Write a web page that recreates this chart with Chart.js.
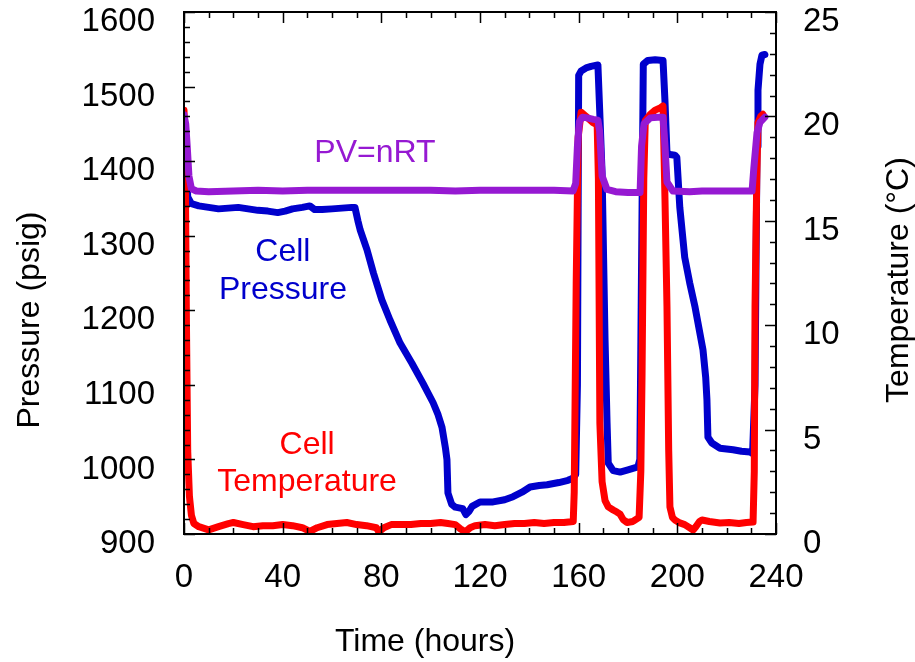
<!DOCTYPE html>
<html>
<head>
<meta charset="utf-8">
<script src="https://cdn.jsdelivr.net/npm/chart.js@4.4.1/dist/chart.umd.min.js"></script>
<style>
  html, body { margin: 0; padding: 0; background: #fff; }
  #wrap { width: 915px; height: 662px; }
</style>
</head>
<body>
<div id="wrap"><canvas id="chart"></canvas></div>
<script>
// --- Cell pressure (psig) vs time (hours) ---
const pressureHours = [0, 0.8, 1.5, 3, 6, 10, 14, 18, 22, 26, 30, 34, 38, 41, 44, 48, 51, 53, 56, 60, 64, 68, 69.3,
  70.5, 71.4, 74.2, 76.8, 80.2, 83.5, 87.6, 92.4, 96.9, 101, 103, 104.6, 106, 106.6, 107, 108.5, 110, 113, 114.3,
  115.5, 116.8, 120, 125.3, 130, 133.4, 137, 140.3, 144, 147.2, 152, 155.7, 157.7, 158.8, 159.5, 160, 161, 163,
  165, 167.8, 168.5, 169.5, 170.7, 171.5, 172, 174, 176.8, 180, 184, 184.8, 185.6, 186.2, 188, 191, 194.2, 195,
  195.8, 197, 199, 199.8, 201, 203, 205, 207.2, 210.4, 211.5, 212, 212.4, 214, 217.3, 222.6, 226, 229.5, 230.5,
  231.5, 232.3, 232.7, 233.5, 234.3, 235.5];
const cellPressure = [1458, 1420, 1352, 1343, 1340, 1338, 1336, 1337, 1338, 1336, 1334, 1333, 1331, 1333, 1336, 1338, 1340, 1335, 1335, 1336, 1337, 1338, 1338,
  1320, 1308, 1281, 1250, 1214, 1187, 1156, 1129, 1102, 1076, 1060, 1043, 1015, 1000, 955, 940, 936, 934, 926,
  930, 937, 943, 943, 946, 950, 956, 963, 965, 966, 969, 972, 975, 980, 1100, 1515, 1521, 1525,
  1527, 1529, 1470, 1384, 1160, 1050, 995, 985, 983, 986, 990, 1000, 1300, 1530, 1535, 1536, 1535, 1480,
  1411, 1409, 1408, 1405, 1338, 1271, 1237, 1204, 1147, 1110, 1080, 1030, 1022, 1015, 1013, 1011, 1010, 1008,
  1100, 1420, 1495, 1530, 1542, 1543];

// --- Cell temperature (°C) vs time (hours) ---
const tempHours = [0, 0.5, 1, 1.5, 2.2, 3, 4, 6, 10, 14, 18, 20, 24, 28, 32, 36, 40, 44, 48, 51, 54, 58, 62, 66, 70,
  74, 78, 79, 81, 84, 88, 92, 96, 100, 104, 107, 110, 112, 114, 116, 118, 122, 126, 130, 134, 138, 142, 146, 150,
  154, 157.8, 158.2, 159, 159.8, 161, 163, 165.8, 167.5, 168, 168.6, 169.5, 170.7, 172, 174, 175.5, 176.8, 178,
  179.6, 182, 184.5, 185.2, 185.7, 186.4, 187, 189, 191, 193, 194.2, 195, 195.8, 196.5, 197, 198, 199, 201, 203,
  205, 206.4, 207.5, 209, 210, 213, 217.3, 221, 225, 228, 230.7, 231.2, 231.5, 232.2, 232.7, 233.8, 234.7];
const cellTemp = [20.3, 18, 10, 4, 1.8, 0.9, 0.5, 0.35, 0.2, 0.35, 0.5, 0.55, 0.45, 0.35, 0.4, 0.4, 0.45, 0.4, 0.3, 0.12, 0.3, 0.45, 0.5, 0.55, 0.45,
  0.4, 0.3, 0.1, 0.3, 0.45, 0.45, 0.45, 0.5, 0.5, 0.55, 0.5, 0.45, 0.25, 0.1, 0.3, 0.4, 0.45, 0.4, 0.45, 0.5, 0.5, 0.55, 0.5, 0.55,
  0.55, 0.6, 2, 12, 19, 20.2, 20.0, 19.7, 19.6, 17, 5.3, 2.5, 1.6, 1.3, 1.15, 1.05, 0.95, 0.7,
  0.55, 0.6, 0.8, 3, 7.7, 17, 19.8, 20.1, 20.3, 20.4, 20.5, 16, 10.9, 4, 1.3, 0.8, 0.67, 0.53, 0.45,
  0.3, 0.19, 0.35, 0.6, 0.67, 0.6, 0.53, 0.55, 0.5, 0.55, 0.57, 3, 10.9, 17, 19.7, 20.0, 20.1];

// --- PV=nRT prediction (psig) vs time (hours) ---
const pvHours = [0, 0.7, 1.3, 2, 3, 5, 10, 20, 30, 40, 50, 60, 70, 80, 90, 100, 110, 120, 130, 140, 150, 157.7,
  158.8, 159.5, 160.3, 161.5, 163.4, 166, 167.8, 168.5, 169.5, 171.5, 175, 180, 184.9, 185.5, 186.5, 189, 192,
  194.2, 195, 195.8, 198.2, 205, 210, 220, 230.3, 231, 232.3, 233.5, 235.5];
const pvPressure = [1462, 1450, 1420, 1380, 1363, 1360, 1359, 1360, 1361, 1360, 1361, 1361, 1361, 1361, 1361, 1361, 1360, 1361, 1361, 1361, 1361, 1360,
  1370, 1420, 1453, 1459, 1458, 1456, 1455, 1440, 1380, 1362, 1359, 1358, 1358, 1420, 1450, 1458, 1459,
  1459, 1420, 1372, 1360, 1359, 1360, 1360, 1360, 1390, 1438, 1452, 1459];

const FONT = '"Liberation Sans", Arial, Helvetica, sans-serif';
const BLUE = '#0000cc';
const RED = '#ff0000';
const PURPLE = '#9619d2';

function pairs(xs, ys) {
  return xs.map((x, i) => ({ x: x, y: ys[i] }));
}

// frame, inward ticks, axis titles and in-plot labels
const decorations = {
  id: 'decorations',
  afterDraw(chart) {
    const { ctx, chartArea: a, scales } = chart;
    const x = scales.x, y = scales.y, yT = scales.yT;
    ctx.save();
    ctx.strokeStyle = '#000';
    ctx.lineWidth = 2;
    ctx.strokeRect(a.left, a.top, a.right - a.left, a.bottom - a.top);

    ctx.lineWidth = 1.5;
    ctx.beginPath();
    for (let h = 0; h <= 240; h += 10) {
      const px = Math.round(x.getPixelForValue(h)) + 0.5;
      const len = h % 40 === 0 ? 11 : 6;
      ctx.moveTo(px, a.bottom); ctx.lineTo(px, a.bottom - len);
      ctx.moveTo(px, a.top); ctx.lineTo(px, a.top + len);
    }
    for (let p = 900; p <= 1600; p += 20) {
      const py = Math.round(y.getPixelForValue(p)) + 0.5;
      const len = p % 100 === 0 ? 11 : 6;
      ctx.moveTo(a.left, py); ctx.lineTo(a.left + len, py);
    }
    for (let t = 0; t <= 25; t += 1) {
      const py = Math.round(yT.getPixelForValue(t)) + 0.5;
      const len = t % 5 === 0 ? 11 : 6;
      ctx.moveTo(a.right, py); ctx.lineTo(a.right - len, py);
    }
    ctx.stroke();

    ctx.font = '32px ' + FONT;
    ctx.textAlign = 'center';
    ctx.textBaseline = 'middle';
    ctx.fillStyle = '#000';
    ctx.fillText('Time (hours)', 425, 642);

    ctx.save();
    ctx.translate(30, 320);
    ctx.rotate(-Math.PI / 2);
    ctx.fillText('Pressure (psig)', 0, 0);
    ctx.restore();

    ctx.save();
    ctx.translate(899, 280);
    ctx.rotate(-Math.PI / 2);
    ctx.fillText('Temperature (\u00B0C)', 0, 0);
    ctx.restore();

    ctx.fillStyle = PURPLE;
    ctx.fillText('PV=nRT', x.getPixelForValue(77.4), y.getPixelForValue(1411));
    ctx.fillStyle = BLUE;
    ctx.fillText('Cell', x.getPixelForValue(40.1), y.getPixelForValue(1278));
    ctx.fillText('Pressure', x.getPixelForValue(40.1), y.getPixelForValue(1227));
    ctx.fillStyle = RED;
    ctx.fillText('Cell', x.getPixelForValue(49.9), yT.getPixelForValue(4.26));
    ctx.fillText('Temperature', x.getPixelForValue(49.9), yT.getPixelForValue(2.49));
    ctx.restore();
  }
};

const tickFont = { family: FONT, size: 33 };
const plain = v => String(v);

new Chart(document.getElementById('chart'), {
  type: 'line',
  data: {
    datasets: [
      { label: 'PV=nRT', data: pairs(pvHours, pvPressure), yAxisID: 'y', borderColor: PURPLE, borderWidth: 7 },
      { label: 'Cell Temperature', data: pairs(tempHours, cellTemp), yAxisID: 'yT', borderColor: RED, borderWidth: 7 },
      { label: 'Cell Pressure', data: pairs(pressureHours, cellPressure), yAxisID: 'y', borderColor: BLUE, borderWidth: 7 }
    ]
  },
  options: {
    responsive: true,
    maintainAspectRatio: false,
    animation: false,
    layout: { padding: { top: 12, left: 0, right: 0, bottom: 0 } },
    elements: {
      point: { radius: 0, hoverRadius: 0 },
      line: { tension: 0, borderJoinStyle: 'round', borderCapStyle: 'round', fill: false }
    },
    plugins: { legend: { display: false }, tooltip: { enabled: false } },
    scales: {
      x: {
        type: 'linear', min: 0, max: 240,
        grid: { display: false, drawTicks: false },
        border: { display: false },
        ticks: { stepSize: 40, font: tickFont, color: '#000', padding: 24, maxRotation: 0, autoSkip: false, callback: plain },
        afterFit: s => { s.height = 128; s.paddingLeft = 0; s.paddingRight = 0; }
      },
      y: {
        type: 'linear', position: 'left', min: 900, max: 1600,
        grid: { display: false, drawTicks: false },
        border: { display: false },
        ticks: { stepSize: 100, font: tickFont, color: '#000', padding: 29, labelOffset: 10, callback: plain },
        afterFit: s => { s.width = 184; s.paddingTop = 0; s.paddingBottom = 0; }
      },
      yT: {
        type: 'linear', position: 'right', min: 0, max: 25,
        grid: { display: false, drawTicks: false },
        border: { display: false },
        ticks: { stepSize: 5, font: tickFont, color: '#000', padding: 27, labelOffset: 10, callback: plain },
        afterFit: s => { s.width = 139; s.paddingTop = 0; s.paddingBottom = 0; }
      }
    }
  },
  plugins: [decorations]
});
</script>
</body>
</html>
